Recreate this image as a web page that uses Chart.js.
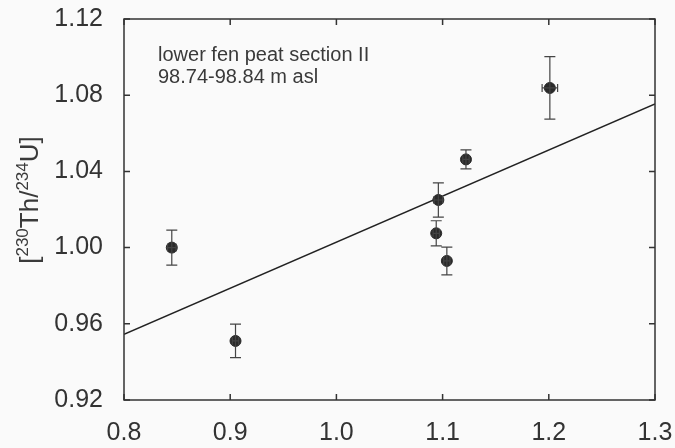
<!DOCTYPE html>
<html lang="en">
  <head>
    <meta charset="UTF-8" />
    <title>230Th/234U isochron</title>
    <script src="https://cdn.jsdelivr.net/npm/chart.js"></script>
    <style>
      body {
        margin: 0;
        background: #fafafa;
      }
      .wrap {
        width: 675px;
        height: 448px;
      }
    </style>
  </head>
  <body>
    <div class="wrap"><canvas id="chart" width="675" height="448"></canvas></div>

    <script>
      // data
      const xVals = [0.845, 0.905, 1.094, 1.096, 1.104, 1.122, 1.201];
      const yVals = [1.0, 0.951, 1.0075, 1.025, 0.993, 1.0463, 1.0838];
      const yErr = [0.0092, 0.0088, 0.0066, 0.009, 0.0073, 0.005, 0.0164];
      const xErr = [0.004, 0.003, 0.003, 0.004, 0.003, 0.003, 0.0073];
      const fitX = [0.8, 1.3];
      const fitY = [0.9545, 1.0754];
      const xTicks = [0.8, 0.9, 1.0, 1.1, 1.2, 1.3];
      const yTicks = [0.92, 0.96, 1.0, 1.04, 1.08, 1.12];
      const noteLines = ["lower fen peat section II", "98.74-98.84 m asl"];

      const ink = "#333";
      const font = "'Liberation Sans', Arial, sans-serif";

      // box with inward ticks on all four sides
      const frame = {
        id: "frame",
        afterDraw(chart) {
          const { ctx, chartArea: a, scales } = chart;
          ctx.save();
          ctx.strokeStyle = ink;
          ctx.lineWidth = 1.5;
          ctx.strokeRect(a.left, a.top, a.right - a.left, a.bottom - a.top);
          const t = 6;
          ctx.beginPath();
          xTicks.forEach((v) => {
            const px = scales.x.getPixelForValue(v);
            ctx.moveTo(px, a.bottom);
            ctx.lineTo(px, a.bottom - t);
            ctx.moveTo(px, a.top);
            ctx.lineTo(px, a.top + t);
          });
          yTicks.forEach((v) => {
            const py = scales.y.getPixelForValue(v);
            ctx.moveTo(a.left, py);
            ctx.lineTo(a.left + t, py);
            ctx.moveTo(a.right, py);
            ctx.lineTo(a.right - t, py);
          });
          ctx.stroke();

          // note
          ctx.fillStyle = "#3a3a3a";
          ctx.font = "20px " + font;
          ctx.textBaseline = "alphabetic";
          ctx.fillText(noteLines[0], 158, 61);
          ctx.fillText(noteLines[1], 158, 83);

          // y title with superscripts, rotated
          const parts = [
            ["[", false],
            ["230", true],
            ["Th/", false],
            ["234", true],
            ["U]", false],
          ];
          const big = "26px " + font;
          const small = "17px " + font;
          let total = 0;
          parts.forEach(([s, sup]) => {
            ctx.font = sup ? small : big;
            total += ctx.measureText(s).width;
          });
          ctx.translate(38, 200);
          ctx.rotate(-Math.PI / 2);
          let x = -total / 2;
          parts.forEach(([s, sup]) => {
            ctx.font = sup ? small : big;
            ctx.fillText(s, x, sup ? -10 : 0);
            x += ctx.measureText(s).width;
          });
          ctx.restore();
        },
      };

      // error bars
      const errorBars = {
        id: "errorBars",
        afterDatasetsDraw(chart) {
          const { ctx, scales } = chart;
          const cap = 5.5;
          ctx.save();
          ctx.strokeStyle = "#444";
          ctx.lineWidth = 1.2;
          ctx.beginPath();
          xVals.forEach((xv, i) => {
            const px = scales.x.getPixelForValue(xv);
            const py = scales.y.getPixelForValue(yVals[i]);
            const y1 = scales.y.getPixelForValue(yVals[i] + yErr[i]);
            const y0 = scales.y.getPixelForValue(yVals[i] - yErr[i]);
            ctx.moveTo(px, y0);
            ctx.lineTo(px, y1);
            ctx.moveTo(px - cap, y0);
            ctx.lineTo(px + cap, y0);
            ctx.moveTo(px - cap, y1);
            ctx.lineTo(px + cap, y1);
            const x0 = scales.x.getPixelForValue(xv - xErr[i]);
            const x1 = scales.x.getPixelForValue(xv + xErr[i]);
            ctx.moveTo(x0, py);
            ctx.lineTo(x1, py);
            ctx.moveTo(x0, py - 4);
            ctx.lineTo(x0, py + 4);
            ctx.moveTo(x1, py - 4);
            ctx.lineTo(x1, py + 4);
          });
          ctx.stroke();
          ctx.restore();
        },
      };

      new Chart(document.getElementById("chart"), {
        type: "scatter",
        data: {
          datasets: [
            {
              label: "samples",
              data: xVals.map((x, i) => ({ x, y: yVals[i] })),
              pointRadius: 5.5,
              pointBackgroundColor: "#2a2a2a",
              pointBorderColor: "#2a2a2a",
              order: 0,
            },
            {
              type: "line",
              label: "fit",
              data: fitX.map((x, i) => ({ x, y: fitY[i] })),
              borderColor: "#222",
              borderWidth: 1.5,
              pointRadius: 0,
              fill: false,
              order: 1,
            },
          ],
        },
        options: {
          responsive: false,
          animation: false,
          layout: { padding: { top: 19, right: 20, left: 0, bottom: 0 } },
          plugins: {
            legend: { display: false },
            tooltip: { enabled: false },
          },
          scales: {
            x: {
              type: "linear",
              min: 0.8,
              max: 1.3,
              afterBuildTicks: (s) => (s.ticks = xTicks.map((v) => ({ value: v }))),
              afterFit: (s) => {
                s.height = 48;
                s.paddingLeft = 0;
                s.paddingRight = 0;
              },
              grid: { display: false },
              border: { display: false },
              ticks: {
                color: ink,
                padding: 10,
                font: { family: font, size: 25 },
                callback: (v) => v.toFixed(1),
              },
            },
            y: {
              min: 0.92,
              max: 1.12,
              afterBuildTicks: (s) => (s.ticks = yTicks.map((v) => ({ value: v }))),
              afterFit: (s) => {
                s.width = 124;
                s.paddingTop = 0;
                s.paddingBottom = 0;
              },
              grid: { display: false },
              border: { display: false },
              ticks: {
                color: ink,
                padding: 13,
                font: { family: font, size: 25 },
                callback: (v) => v.toFixed(2),
              },
            },
          },
        },
        plugins: [frame, errorBars],
      });
    </script>
  </body>
</html>
